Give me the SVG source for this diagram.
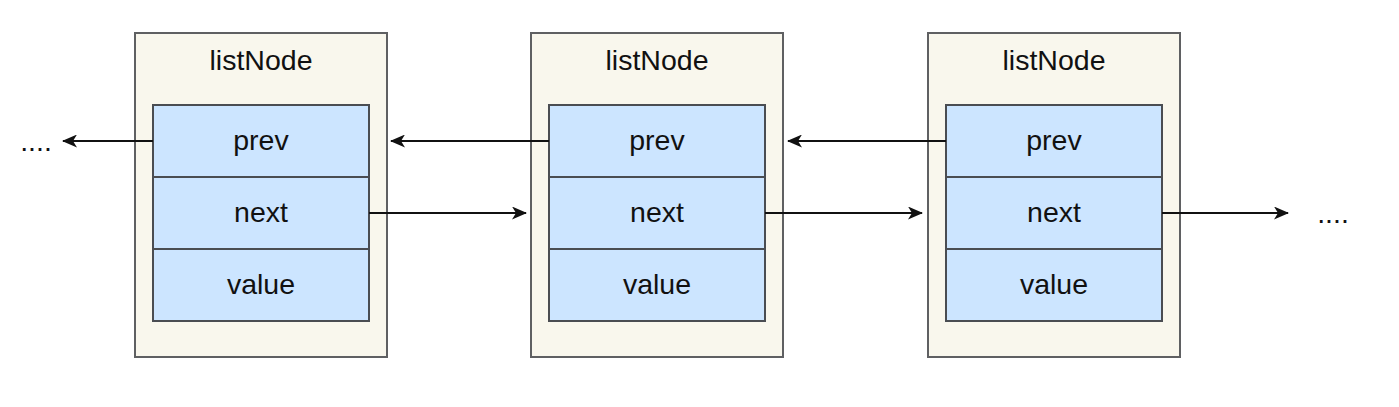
<svg xmlns="http://www.w3.org/2000/svg" width="1399" height="407" viewBox="0 0 1399 407">
<defs>
<style>
.outer{fill:#f9f7ed;stroke:#5f6062;stroke-width:2}
.cell{fill:#cce5ff;stroke:#4a4d52;stroke-width:2}
.t{font-family:"Liberation Sans",Arial,sans-serif;font-size:28.5px;fill:#111;text-anchor:middle}
.c{stroke:#111;stroke-width:2;fill:none}
</style>
<marker id="ah" viewBox="0 0 15 13" refX="14" refY="6.5" markerWidth="15" markerHeight="13" markerUnits="userSpaceOnUse" orient="auto">
<path d="M0,0 L15,6.5 L0,13 L4,6.5 Z" fill="#111"/>
</marker>
</defs>
<rect width="1399" height="407" fill="#fff"/>
<g id="node1">
<rect class="outer" x="135" y="33" width="252" height="324"/>
<text class="t" x="261" y="70">listNode</text>
<rect class="cell" x="153" y="105" width="216" height="72"/>
<rect class="cell" x="153" y="177" width="216" height="72"/>
<rect class="cell" x="153" y="249" width="216" height="72"/>
<text class="t" x="261" y="150">prev</text>
<text class="t" x="261" y="222">next</text>
<text class="t" x="261" y="294">value</text>
</g>
<g id="node2">
<rect class="outer" x="531" y="33" width="252" height="324"/>
<text class="t" x="657" y="70">listNode</text>
<rect class="cell" x="549" y="105" width="216" height="72"/>
<rect class="cell" x="549" y="177" width="216" height="72"/>
<rect class="cell" x="549" y="249" width="216" height="72"/>
<text class="t" x="657" y="150">prev</text>
<text class="t" x="657" y="222">next</text>
<text class="t" x="657" y="294">value</text>
</g>
<g id="node3">
<rect class="outer" x="928" y="33" width="252" height="324"/>
<text class="t" x="1054" y="70">listNode</text>
<rect class="cell" x="946" y="105" width="216" height="72"/>
<rect class="cell" x="946" y="177" width="216" height="72"/>
<rect class="cell" x="946" y="249" width="216" height="72"/>
<text class="t" x="1054" y="150">prev</text>
<text class="t" x="1054" y="222">next</text>
<text class="t" x="1054" y="294">value</text>
</g>
<g id="ellipsis-left"><text class="t" x="36" y="151">....</text></g>
<g id="ellipsis-right"><text class="t" x="1333" y="223">....</text></g>
<g id="connectors">
<line class="c" x1="153" y1="141" x2="63" y2="141" marker-end="url(#ah)"/>
<line class="c" x1="549" y1="141" x2="391" y2="141" marker-end="url(#ah)"/>
<line class="c" x1="946" y1="141" x2="788" y2="141" marker-end="url(#ah)"/>
<line class="c" x1="369" y1="213" x2="526" y2="213" marker-end="url(#ah)"/>
<line class="c" x1="765" y1="213" x2="922" y2="213" marker-end="url(#ah)"/>
<line class="c" x1="1162" y1="213" x2="1288" y2="213" marker-end="url(#ah)"/>
</g>
</svg>
